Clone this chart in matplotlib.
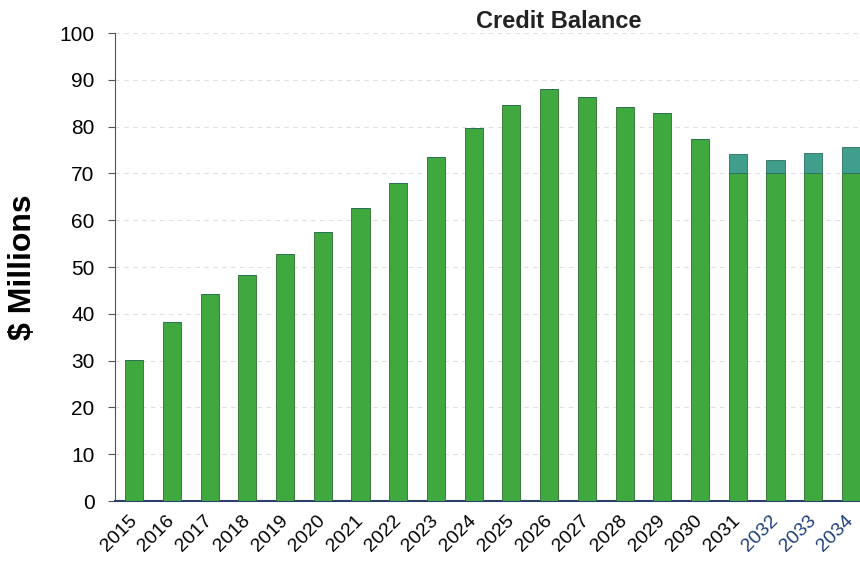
import numpy as np
import matplotlib.pyplot as plt

plt.rcParams['font.family'] = ['Liberation Sans', 'DejaVu Sans']

# data ($ millions)
years = [str(y) for y in range(2015, 2035)]
base = [30.1, 38.2, 44.2, 48.3, 52.8, 57.5, 62.6, 67.9, 73.6, 79.7,
        84.6, 88.0, 86.3, 84.2, 82.9, 77.4, 70.0, 70.0, 70.0, 70.0]
top = [0, 0, 0, 0, 0, 0, 0, 0, 0, 0,
       0, 0, 0, 0, 0, 0, 4.1, 2.9, 4.4, 5.7]
blue_labels = ['2032', '2033', '2034']

fig = plt.figure(figsize=(8.6, 5.7), dpi=100)
ax = fig.add_axes([0.134, 0.121, 0.866, 0.821])

x = np.arange(len(years))
ax.bar(x, base, width=0.48, color='#3fa83f', edgecolor='#2d6e2d', linewidth=0.6, zorder=3)
ax.bar(x, top, width=0.48, bottom=base, color='#3f9e8c', edgecolor='#2d6e5e', linewidth=0.6, zorder=3)

ax.set_xlim(-0.5, 19.24)
ax.set_ylim(0, 100)
ax.set_yticks(range(0, 101, 10))
ax.set_xticks(x)
ax.set_xticklabels(years, rotation=45, ha='right', va='center', rotation_mode='anchor', fontsize=14)
for lbl in ax.get_xticklabels():
    if lbl.get_text() in blue_labels:
        lbl.set_color('#1f3d7a')
ax.tick_params(axis='y', labelsize=15, direction='out', length=5, pad=10, color='#555555')
ax.tick_params(axis='x', length=0, pad=12)

ax.grid(axis='y', linestyle=(0, (4, 4)), color='#e0e0e0', linewidth=0.8, zorder=0)
for side in ['top', 'right']:
    ax.spines[side].set_visible(False)
ax.spines['left'].set_color('#555555')
ax.spines['bottom'].set_color('#2a3f6a')
ax.spines['bottom'].set_linewidth(1.5)

ax.set_ylabel('$ Millions', fontsize=23, fontweight='bold')
ax.yaxis.set_label_coords(-0.104, 0.5)
fig.text(0.65, 0.963, 'Credit Balance', ha='center', va='center', fontsize=17, fontweight='bold', color='#222222')

fig.savefig('out.png', dpi=100)
